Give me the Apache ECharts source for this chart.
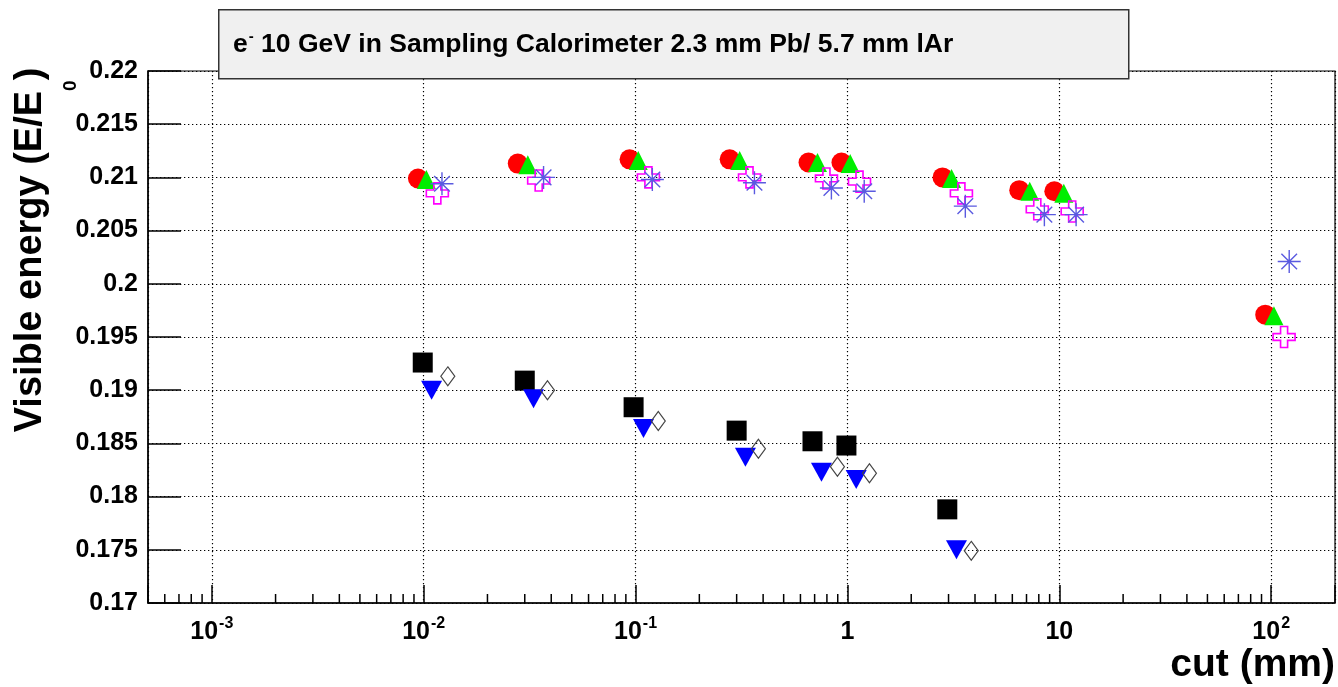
<!DOCTYPE html>
<html>
<head>
<meta charset="utf-8">
<script src="https://cdn.jsdelivr.net/npm/echarts@6/dist/echarts.min.js"></script>
<style>
html,body{margin:0;padding:0;background:#fff;}
#chart{width:1338px;height:687px;}
</style>
</head>
<body>
<div id="chart"></div>
<script>
// ---- data ----
const circleX   = [0.0094, 0.0278, 0.0937, 0.278, 0.655, 0.937, 2.81, 6.47, 9.47, 93.7];
const circleY   = [0.2099, 0.2113, 0.2117, 0.2117, 0.2114, 0.2114, 0.2100, 0.2088, 0.2087, 0.1971];
const triUpX    = [0.0103, 0.0310, 0.103, 0.310, 0.722, 1.03, 3.10, 7.25, 10.5, 103];
const triUpY    = [0.2098, 0.2112, 0.2116, 0.2116, 0.2114, 0.2113, 0.2099, 0.2087, 0.2085, 0.1970];
const crossX    = [0.0116, 0.0349, 0.115, 0.345, 0.796, 1.14, 3.45, 7.87, 11.5, 115];
const crossY    = [0.2085, 0.2097, 0.2100, 0.2100, 0.2099, 0.2096, 0.2085, 0.2070, 0.2068, 0.1950];
const starX     = [0.0122, 0.0368, 0.120, 0.364, 0.840, 1.20, 3.60, 8.50, 12.0, 121.6];
const starY     = [0.2094, 0.2100, 0.2098, 0.2095, 0.2090, 0.2087, 0.2073, 0.2065, 0.2065, 0.2021];
const squareX   = [0.0099, 0.0300, 0.0979, 0.300, 0.684, 0.989, 2.96];
const squareY   = [0.1926, 0.1909, 0.1884, 0.1862, 0.1852, 0.1848, 0.1788];
const triDownX  = [0.0109, 0.0330, 0.109, 0.330, 0.754, 1.10, 3.27];
const triDownY  = [0.1900, 0.1892, 0.1864, 0.1837, 0.1823, 0.1816, 0.1750];
const diamondX  = [0.0130, 0.0384, 0.128, 0.380, 0.897, 1.27, 3.84];
const diamondY  = [0.1913, 0.1900, 0.1871, 0.1845, 0.1828, 0.1822, 0.1749];

const xMin = 0.0005, xMax = 200;
const yMin = 0.17, yMax = 0.22, yStep = 0.005;
const minorMultipliers = [2, 3, 4, 5, 6, 7, 8, 9];
const minorDecades = [-4, -3, -2, -1, 0, 1, 2];

const titleText = ' 10 GeV in Sampling Calorimeter 2.3 mm Pb/ 5.7 mm lAr';
const yTitle = 'Visible energy (E/E';
const xTitle = 'cut (mm)';

// minor tick values on the log axis
const minorTicks = [];
minorDecades.forEach(function (k) {
  minorMultipliers.forEach(function (m) {
    const v = m * Math.pow(10, k);
    if (v > xMin && v < xMax) minorTicks.push([v, yMin]);
  });
});

function zip(a, b) { return a.map(function (v, i) { return [v, b[i]]; }); }

const FONT = '"Liberation Sans", Arial, Helvetica, sans-serif';

const chart = echarts.init(document.getElementById('chart'), null, {renderer: 'canvas'});

function sc(name, xs, ys, symbol, size, itemStyle, z) {
  itemStyle.opacity = 1;
  return {
    name: name, type: 'scatter', data: zip(xs, ys), symbol: symbol, symbolSize: size,
    itemStyle: itemStyle, z: z, silent: true, animation: false
  };
}

const option = {
  animation: false,
  backgroundColor: '#fff',
  grid: {left: 148, top: 71, right: 2, bottom: 84, show: true, borderColor: '#000', borderWidth: 1.2, backgroundColor: 'transparent'},
  xAxis: {
    type: 'log', logBase: 10, min: xMin, max: xMax,
    axisLine: {show: true, lineStyle: {color: '#000', width: 1.5}},
    axisTick: {show: true, inside: true, length: 18, lineStyle: {color: '#000', width: 1.5}},
    minorTick: {show: false},
    splitLine: {show: true, lineStyle: {color: '#000', width: 1.2, type: [1.3, 2.7]}},
    axisLabel: {
      margin: 9,
      fontFamily: FONT, fontWeight: 'bold', fontSize: 25, color: '#000',
      formatter: function (v) {
        const e = Math.log10(v);
        const r = Math.round(e);
        if (Math.abs(e - r) > 1e-6) return '';
        if (r === 0) return '{b|1}';
        if (r === 1) return '{b|10}';
        return '{b|10}{s|' + r + '}';
      },
      rich: {
        b: {fontFamily: FONT, fontWeight: 'bold', fontSize: 25, color: '#000', verticalAlign: 'bottom', padding: [8, 0, 0, 0]},
        s: {fontFamily: FONT, fontWeight: 'bold', fontSize: 16, color: '#000', verticalAlign: 'bottom', padding: [0, 0, 13, 1]}
      }
    }
  },
  yAxis: {
    type: 'value', min: yMin, max: yMax, interval: yStep,
    axisLine: {show: true, lineStyle: {color: '#000', width: 1.5}},
    axisTick: {show: true, inside: true, length: 33, lineStyle: {color: '#000', width: 1.5}},
    splitLine: {show: true, lineStyle: {color: '#000', width: 1.2, type: [1.3, 2.7]}},
    axisLabel: {
      margin: 10, fontFamily: FONT, fontWeight: 'bold', fontSize: 25, color: '#000',
      formatter: function (v) { return String(+v.toFixed(3)); }
    }
  },
  graphic: [
    {type: 'rect', left: 218, top: 9, shape: {width: 910, height: 69},
     style: {fill: '#f0f0f0', stroke: '#333', lineWidth: 1.5}, z: 10},
    {type: 'text', left: 233, top: 29, z: 11,
     style: {
       rich: {
         n: {fontFamily: FONT, fontWeight: 'bold', fontSize: 26.5, fill: '#000', verticalAlign: 'bottom', padding: [6, 0, 0, 0]},
         s: {fontFamily: FONT, fontWeight: 'bold', fontSize: 15, fill: '#000', verticalAlign: 'bottom', padding: [0, 0, 14, 1]}
       },
       text: '{n|e}{s|-}{n|' + titleText + '}'
     }},
    {type: 'text', x: 46, y: 250, rotation: Math.PI / 2, z: 11,
     style: {
       align: 'center', verticalAlign: 'middle',
       rich: {
         n: {fontFamily: FONT, fontWeight: 'bold', fontSize: 38, fill: '#000', verticalAlign: 'top', padding: [0, 0, 30, 0]},
         s: {fontFamily: FONT, fontWeight: 'bold', fontSize: 19, fill: '#000', verticalAlign: 'bottom'}
       },
       text: '{n|' + yTitle + '}{s|0}{n|)}'
     }},
    {type: 'text', right: 3, top: 646, z: 11,
     style: {text: xTitle, fontFamily: FONT, fontWeight: 'bold', fontSize: 39, fill: '#000'}}
  ],
  series: [
    {
      type: 'custom', name: 'minorTicks', data: minorTicks, silent: true, clip: false, z: 5,
      renderItem: function (params, api) {
        const p = api.coord([api.value(0), api.value(1)]);
        return {type: 'line', shape: {x1: p[0], y1: p[1], x2: p[0], y2: p[1] - 9},
                style: {stroke: '#000', lineWidth: 1.5}};
      }
    },
    sc('circle', circleX, circleY, 'circle', 20, {color: '#ff0000'}, 20),
    sc('triUp', triUpX, triUpY, 'triangle', [19, 19], {color: '#00ee00'}, 21),
    sc('cross', crossX, crossY, 'path://M3.4,0 L6.6,0 L6.6,3.4 L10,3.4 L10,6.6 L6.6,6.6 L6.6,10 L3.4,10 L3.4,6.6 L0,6.6 L0,3.4 L3.4,3.4 Z', [22, 21],
       {color: 'rgba(0,0,0,0)', borderColor: '#ff00ff', borderWidth: 1.6}, 22),
    sc('star', starX, starY, 'path://M5,0 L5,10 M0,5 L10,5 M1.6,1.6 L8.4,8.4 M1.6,8.4 L8.4,1.6', [23, 23],
       {color: 'rgba(0,0,0,0)', borderColor: '#5a5ae0', borderWidth: 1.4}, 23),
    sc('square', squareX, squareY, 'rect', [20, 20], {color: '#000'}, 20),
    sc('triDown', triDownX, triDownY, 'path://M0,0 L10,0 L5,10 Z', [21, 19], {color: '#0000ff'}, 21),
    sc('diamond', diamondX, diamondY, 'path://M5,0 L10,5 L5,10 L0,5 Z', [14, 19],
       {color: 'rgba(0,0,0,0)', borderColor: '#444', borderWidth: 1.2}, 22)
  ]
};

chart.setOption(option);
</script>
</body>
</html>
